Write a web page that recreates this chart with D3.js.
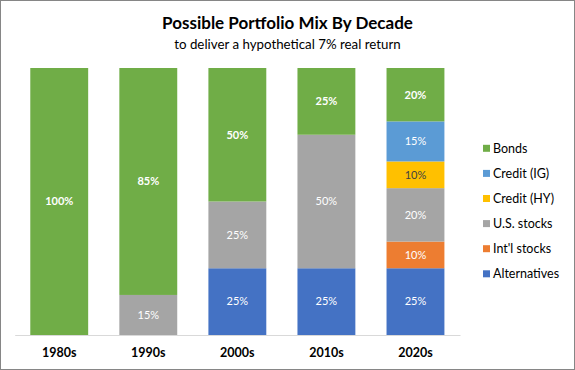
<!DOCTYPE html>
<html>
<head>
<meta charset="utf-8">
<script src="https://cdn.jsdelivr.net/npm/d3@7"></script>
<style>
  body { margin: 0; background: #fff; }
  svg { display: block; font-family: Lato, "Open Sans", sans-serif; }
</style>
</head>
<body>
<div id="chart"></div>
<script>
// chart data
const decades = ['1980s', '1990s', '2000s', '2010s', '2020s'];
const seriesNames = ['Alternatives', "Int'l stocks", 'U.S. stocks', 'Credit (HY)', 'Credit (IG)', 'Bonds'];
const alternatives = [0, 0, 25, 25, 25];
const intlStocks = [0, 0, 0, 0, 10];
const usStocks = [0, 15, 25, 50, 20];
const creditHY = [0, 0, 0, 0, 10];
const creditIG = [0, 0, 0, 0, 15];
const bonds = [100, 85, 50, 25, 20];

const colors = {
    'Alternatives': '#4472C4',
    "Int'l stocks": '#ED7D31',
    'U.S. stocks': '#A5A5A5',
    'Credit (HY)': '#FFC000',
    'Credit (IG)': '#5B9BD5',
    'Bonds': '#70AD47',
};

const valuesBySeries = {
    'Alternatives': alternatives,
    "Int'l stocks": intlStocks,
    'U.S. stocks': usStocks,
    'Credit (HY)': creditHY,
    'Credit (IG)': creditIG,
    'Bonds': bonds,
};

const rows = decades.map((d, i) => {
    const row = { decade: d };
    seriesNames.forEach(s => { row[s] = valuesBySeries[s][i]; });
    return row;
});

const width = 575;
const height = 370;

const svg = d3.select('#chart').append('svg')
    .attr('width', width)
    .attr('height', height);

svg.append('rect')
    .attr('x', 0.5).attr('y', 0.5)
    .attr('width', width - 1).attr('height', height - 1)
    .attr('fill', '#fff')
    .attr('stroke', '#868686');

// titles
svg.append('text')
    .attr('x', width / 2).attr('y', 29)
    .attr('text-anchor', 'middle')
    .style('font-size', '17px').style('font-weight', 'bold')
    .attr('fill', '#000')
    .text('Possible Portfolio Mix By Decade');

svg.append('text')
    .attr('x', width / 2).attr('y', 49)
    .attr('text-anchor', 'middle')
    .style('font-size', '13.3px')
    .attr('fill', '#000')
    .text('to deliver a hypothetical 7% real return');

const x = d3.scaleBand()
    .domain(decades)
    .range([14.7, 460])
    .paddingInner(0.35)
    .paddingOuter(0.175);

const y = d3.scaleLinear()
    .domain([0, 100])
    .range([335, 68]);

const stacked = d3.stack().keys(seriesNames)(rows);

const layers = svg.append('g').selectAll('g')
    .data(stacked)
    .enter()
    .append('g')
    .attr('fill', d => colors[d.key]);

layers.selectAll('rect')
    .data(d => d.filter(p => p[1] - p[0] > 0))
    .enter()
    .append('rect')
    .attr('x', d => x(d.data.decade))
    .attr('y', d => y(d[1]))
    .attr('width', x.bandwidth())
    .attr('height', d => y(d[0]) - y(d[1]));

// data labels
stacked.forEach(layer => {
    svg.append('g').selectAll('text')
        .data(layer.filter(p => p[1] - p[0] > 0))
        .enter()
        .append('text')
        .attr('x', d => x(d.data.decade) + x.bandwidth() / 2)
        .attr('y', d => (y(d[0]) + y(d[1])) / 2)
        .attr('dy', '0.35em')
        .attr('text-anchor', 'middle')
        .style('font-size', '11px')
        .style('font-weight', layer.key === 'Bonds' ? 'bold' : 'normal')
        .attr('fill', layer.key === 'Credit (HY)' ? '#404040' : '#fff')
        .text(d => `${d[1] - d[0]}%`);
});

// x axis
const xAxis = svg.append('g')
    .attr('transform', 'translate(0,335)')
    .call(d3.axisBottom(x).tickSize(0).tickPadding(13));

xAxis.select('.domain').attr('stroke', '#D9D9D9');
xAxis.selectAll('text')
    .style('font-family', 'Lato, "Open Sans", sans-serif')
    .style('font-size', '12.5px')
    .style('font-weight', 'bold')
    .attr('fill', '#000');

// legend
const legendOrder = seriesNames.slice().reverse();
const legend = svg.append('g').selectAll('g')
    .data(legendOrder)
    .enter()
    .append('g')
    .attr('transform', (d, i) => `translate(483,${148.3 + i * 25.1})`);

legend.append('rect')
    .attr('x', 0).attr('y', -3.5)
    .attr('width', 7).attr('height', 7)
    .attr('fill', d => colors[d]);

legend.append('text')
    .attr('x', 10).attr('y', 0)
    .attr('dy', '0.35em')
    .style('font-size', '12.5px')
    .attr('fill', '#000')
    .text(d => d);
</script>
</body>
</html>
